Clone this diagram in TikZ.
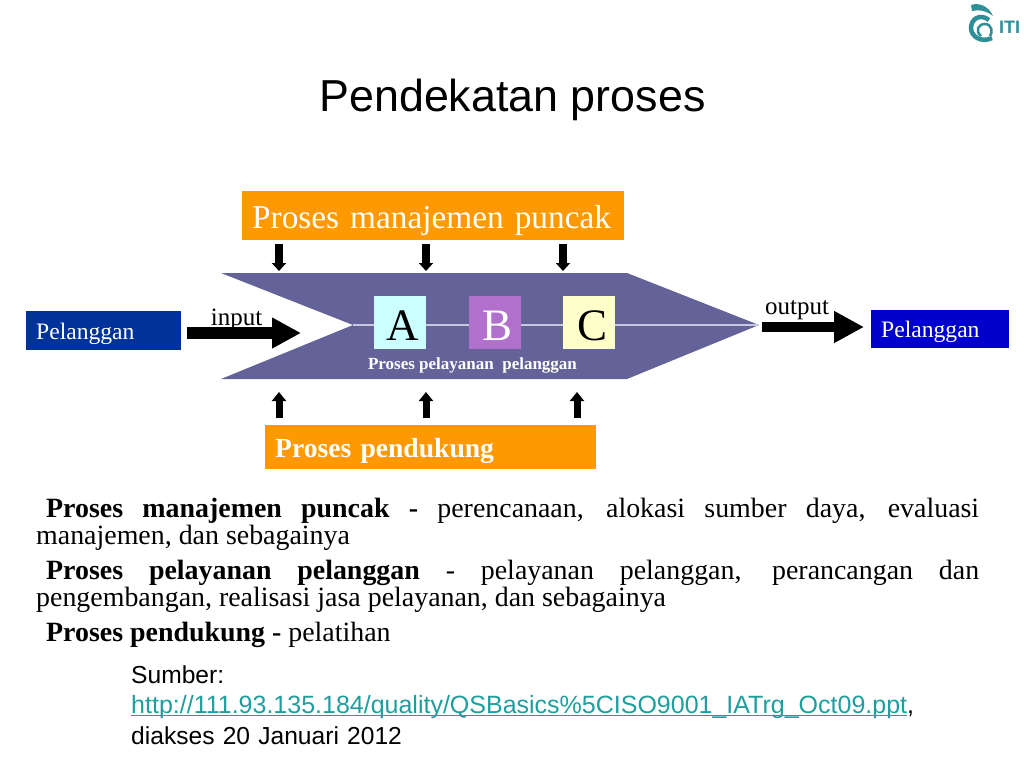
\documentclass[tikz,border=0pt]{standalone}
\usepackage{fontspec}
\setmainfont{Liberation Serif}
\newfontfamily\arialfont{Liberation Sans}
\usetikzlibrary{arrows.meta}
\definecolor{bodyblue}{HTML}{636399}
\definecolor{topblue}{HTML}{003399}
\definecolor{endblue}{HTML}{0000CC}
\definecolor{boxorange}{HTML}{FF9900}
\definecolor{boxcyan}{HTML}{CCFFFF}
\definecolor{boxpurple}{HTML}{B070CC}
\definecolor{boxcream}{HTML}{FFFFCC}
\definecolor{flowline}{HTML}{C8C8E0}
\definecolor{linkteal}{HTML}{1F9E9E}
\definecolor{logoteal}{HTML}{2F8F96}
\tikzset{
  bandbox/.style={fill=boxorange,text=white,inner xsep=10pt,inner ysep=0pt,anchor=north west,align=left},
  custbox/.style={text=white,font=\fontsize{23.6}{26}\selectfont,inner xsep=10pt,inner ysep=0pt,anchor=north west,align=left},
  stepbox/.style={minimum width=52pt,minimum height=53pt,inner sep=0pt},
  steptext/.style={inner sep=0pt,font=\fontsize{45}{48}\selectfont},
  downarrow/.style={line width=8pt,-{Triangle[length=8pt,width=14pt]}},
  uparrow/.style={line width=7pt,-{Triangle[length=9pt,width=14pt]}},
  bodytext/.style={anchor=north west,inner sep=0pt,text width=943pt,align=justify,font=\fontsize{27.9}{27}\selectfont},
}
\begin{document}
\begin{tikzpicture}[x=1pt,y=-1pt]
\useasboundingbox (0,0) rectangle (1024,768);
\node[font=\arialfont\fontsize{44.8}{48}\selectfont,inner sep=0pt] (title) at (512.5,100) {Pendekatan proses};
% logo
\draw[logoteal,line width=4.5pt] (989,20) .. controls (980,13) and (971,19) .. (971,28) .. controls (971,37) and (982,43) .. (992,38);
\draw[logoteal,line width=2.5pt] (981,36) .. controls (975,31) and (978,24) .. (985,24) .. controls (992,24) and (993,33) .. (990,36);
\fill[logoteal] (971,5) .. controls (980,2) and (989,7) .. (993,16) .. controls (987,11) and (979,9) .. (972,11) -- cycle;
\node[font=\arialfont\bfseries\fontsize{18}{20}\selectfont,text=logoteal,inner sep=0pt,anchor=west] (logotext) at (999,27) {ITI};
% process body
\fill[bodyblue] (221,273) -- (627,273) -- (759,325) -- (627,379) -- (221,379) -- (353,325) -- cycle;
\coordinate (linestart) at (353,325);
\coordinate (lineend) at (759,325);
\draw[flowline,line width=1.5pt] (linestart) -- (lineend);
\node[stepbox,fill=boxcyan] (stepa) at (400,322.5) {};
\node[stepbox,fill=boxpurple] (stepb) at (494.5,322.5) {};
\node[stepbox,fill=boxcream] (stepc) at (589,322.5) {};
\node[steptext] (labela) at (403,326) {A};
\node[steptext,text=white] (labelb) at (497,326) {B};
\node[steptext] (labelc) at (592,326) {C};
\node[text=white,inner sep=0pt,font=\bfseries\fontsize{17}{20}\selectfont] (servlabel) at (472.5,365) {Proses pelayanan\ \ pelanggan};
% bands
\node[bandbox,minimum width=382pt,minimum height=49pt,text width=362pt,font=\fontsize{33.3}{36}\selectfont] (mgmt) at (242,191) {\smash{\raisebox{-12.5pt}{Proses manajemen puncak}}};
\node[bandbox,minimum width=331pt,minimum height=44pt,text width=311pt,font=\bfseries\fontsize{27.6}{30}\selectfont] (support) at (265,425) {\smash{\raisebox{-10pt}{Proses pendukung}}};
% customers
\node[custbox,fill=topblue,minimum width=155pt,minimum height=39pt,text width=135pt] (custin) at (26,311) {\smash{\raisebox{-9pt}{Pelanggan}}};
\node[custbox,fill=endblue,minimum width=138pt,minimum height=38pt,text width=118pt] (custout) at (871,310) {\smash{\raisebox{-8.5pt}{Pelanggan}}};
% main arrows
\coordinate (inputstart) at (187,333);
\coordinate (inputend) at (301,333);
\coordinate (outputstart) at (762,327);
\coordinate (outputend) at (864,327);
\draw[line width=12pt,-{Triangle[length=29pt,width=29pt]}] (inputstart) -- (inputend);
\draw[line width=10pt,-{Triangle[length=30pt,width=30pt]}] (outputstart) -- (outputend);
\node[font=\fontsize{25}{27}\selectfont,inner sep=0pt] (inputlabel) at (236.5,319.5) {input};
\node[font=\fontsize{25}{27}\selectfont,inner sep=0pt] (outputlabel) at (797,310) {output};
% top arrows
\coordinate (topa) at (279,244);
\coordinate (topb) at (426,244);
\coordinate (topc) at (563,244);
\coordinate (enda) at (279,271);
\coordinate (endb) at (426,271);
\coordinate (endc) at (563,271);
\draw[downarrow] (topa) -- (enda);
\draw[downarrow] (topb) -- (endb);
\draw[downarrow] (topc) -- (endc);
% bottom arrows
\coordinate (lowa) at (279,418);
\coordinate (lowb) at (426,418);
\coordinate (lowc) at (577,418);
\coordinate (upa) at (279,392);
\coordinate (upb) at (426,392);
\coordinate (upc) at (577,392);
\draw[uparrow] (lowa) -- (upa);
\draw[uparrow] (lowb) -- (upb);
\draw[uparrow] (lowc) -- (upc);
% text
\node[bodytext] (parone) at (36,498) {\hspace*{10pt}\textbf{Proses manajemen puncak -} perencanaan, alokasi sumber daya, evaluasi\linebreak manajemen, dan sebagainya};
\node[bodytext] (partwo) at (36,560) {\hspace*{10pt}\textbf{Proses pelayanan pelanggan} - pelayanan pelanggan, perancangan dan\linebreak pengembangan, realisasi jasa pelayanan, dan sebagainya};
\node[bodytext] (parthree) at (36,622) {\hspace*{10pt}\textbf{Proses pendukung -} pelatihan};
\node[anchor=north west,inner sep=0pt,text width=850pt,align=left,font=\arialfont\fontsize{24.6}{30.5}\selectfont] (source) at (131,665) {Sumber:\\{\fontsize{25}{30.5}\selectfont\textcolor{linkteal}{\underline{\smash{http://111.93.135.184/quality/QSBasics\%5CISO9001\_IATrg\_Oct09.ppt}}},}\\diakses 20 Januari 2012};
\end{tikzpicture}
\end{document}
